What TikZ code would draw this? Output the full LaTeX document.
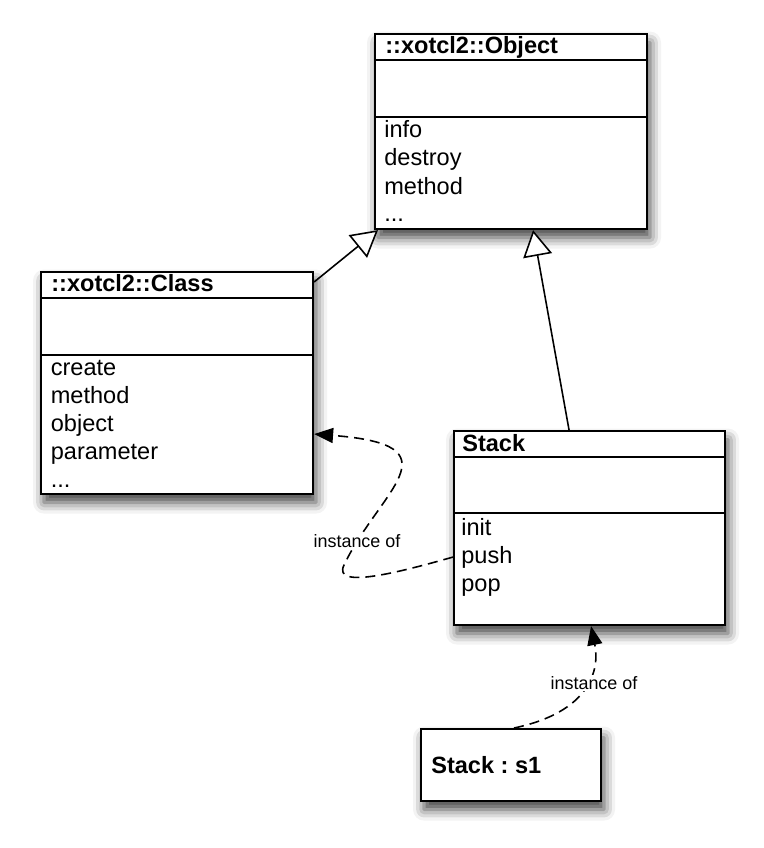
\documentclass[tikz,border=0pt]{standalone}
\usepackage{fontspec}
\setmainfont{Liberation Sans}
\frenchspacing
\usetikzlibrary{arrows.meta,shadows.blur}

\tikzset{
  classbox/.style={draw, line width=1.2pt, fill=white, anchor=north west, inner sep=0pt,
    blur shadow={shadow xshift=0.06cm, shadow yshift=-0.17cm, shadow blur radius=0.22cm, shadow opacity=75}},
  classname/.style={anchor=base west, inner sep=0pt, font=\fontsize{13.4}{16}\selectfont\bfseries},
  opname/.style={anchor=base west, inner sep=0pt, font=\fontsize{13.4}{16}\selectfont},
  sepline/.style={line width=1.1pt},
  inherits/.style={line width=0.9pt, -{Triangle[open, length=0.52cm, width=0.58cm, fill=white]}},
  instof/.style={line width=0.9pt, dash pattern=on 0.2cm off 0.12cm, -{Triangle[length=0.38cm, width=0.3cm]}},
  note/.style={fill=white, inner sep=1pt, font=\fontsize{10.2}{12}\selectfont},
}

\begin{document}
\begin{tikzpicture}
    \useasboundingbox (0, 0) rectangle (15.28, -16.96);

    % ::xotcl2::Object
    \node[classbox, minimum width=5.44cm, minimum height=3.9cm] (object) at (7.48, -0.66) {};
        \draw[sepline] (7.48, -1.20) -- (12.92, -1.20);
        \draw[sepline] (7.48, -2.34) -- (12.92, -2.34);
        \node[classname] (objname) at (7.70, -1.06) {::xotcl2::Object};
        \node[opname] (objop1) at (7.68, -2.750) {info};
        \node[opname] (objop2) at (7.68, -3.316) {destroy};
        \node[opname] (objop3) at (7.68, -3.882) {method};
        \node[opname] (objop4) at (7.68, -4.420) {...};

    % ::xotcl2::Class
    \node[classbox, minimum width=5.44cm, minimum height=4.44cm] (class) at (0.80, -5.42) {};
        \draw[sepline] (0.80, -5.96) -- (6.24, -5.96);
        \draw[sepline] (0.80, -7.10) -- (6.24, -7.10);
        \node[classname] (clsname) at (1.02, -5.83) {::xotcl2::Class};
        \node[opname] (clsop1) at (1.01, -7.500) {create};
        \node[opname] (clsop2) at (1.01, -8.066) {method};
        \node[opname] (clsop3) at (1.01, -8.632) {object};
        \node[opname] (clsop4) at (1.01, -9.198) {parameter};
        \node[opname] (clsop5) at (1.01, -9.740) {...};

    % Stack
    \node[classbox, minimum width=5.42cm, minimum height=3.88cm] (stack) at (9.06, -8.60) {};
        \draw[sepline] (9.06, -9.14) -- (14.48, -9.14);
        \draw[sepline] (9.06, -10.26) -- (14.48, -10.26);
        \node[classname] (stkname) at (9.24, -9.02) {Stack};
        \node[opname] (stkop1) at (9.22, -10.700) {init};
        \node[opname] (stkop2) at (9.22, -11.266) {push};
        \node[opname] (stkop3) at (9.22, -11.832) {pop};

    % Stack : s1
    \node[classbox, minimum width=3.6cm, minimum height=1.44cm] (s1) at (8.40, -14.56) {};
        \node[classname] (s1name) at (8.62, -15.46) {Stack : s1};

    % generalisation
    \draw[inherits] ([yshift=-0.22cm]class.north east) -- ([xshift=0.08cm]object.south west);
    \draw[inherits] ([xshift=-0.41cm]stack.north) -- ([xshift=0.44cm]object.south);

    % instance of
    \draw[instof] ([yshift=-0.58cm]stack.west) .. controls (8.00, -11.44) and (6.64, -11.80) .. (6.88, -11.30)
        .. controls (7.60, -9.80) and (9.20, -8.90) .. ([yshift=-1.02cm]class.east);
    \node[note] (inst1) at (7.14, -10.82) {instance of};

    \draw[instof] ([xshift=0.06cm]s1.north) .. controls (11.80, -14.24) and (12.00, -13.40) .. ([xshift=0.03cm]stack.south);
    \node[note] (inst2) at (11.88, -13.66) {instance of};
\end{tikzpicture}
\end{document}
